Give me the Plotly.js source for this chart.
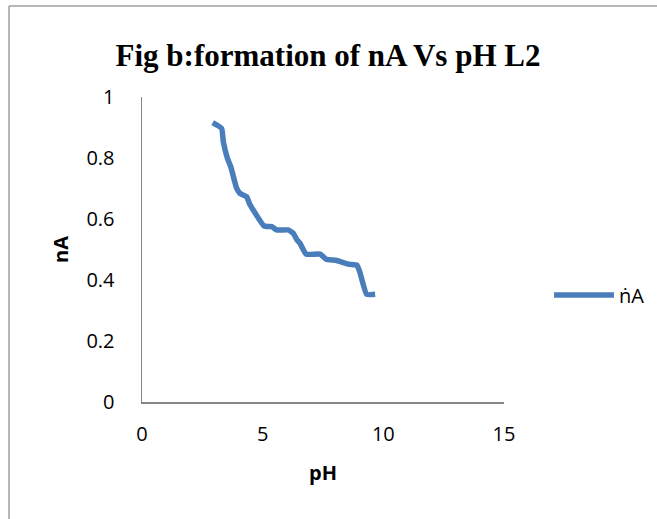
<!DOCTYPE html>
<html>
<head>
<meta charset="utf-8">
<script src="https://cdn.plot.ly/plotly-3.0.1.min.js"></script>
<style>
html,body{margin:0;padding:0;background:#fff;}
#chart{width:657px;height:519px;}
</style>
</head>
<body>
<div id="chart"></div>
<script>
const pH = [2.93, 3.30, 3.37, 3.54, 3.68, 3.92, 4.06, 4.34, 4.45, 5.06, 5.38, 5.58, 6.06, 6.27, 6.41, 6.55, 6.80, 7.38, 7.63, 8.07, 8.55, 8.90, 9.03, 9.31, 9.66];
const nA = [0.916, 0.897, 0.853, 0.799, 0.771, 0.701, 0.684, 0.673, 0.651, 0.577, 0.575, 0.564, 0.564, 0.553, 0.533, 0.520, 0.485, 0.485, 0.468, 0.464, 0.452, 0.449, 0.425, 0.353, 0.353];
const seriesName = "ṅA";
const titleText = "Fig b:formation of nA Vs pH L2";
const xTitle = "pH";
const yTitle = "nA";
const xTicks = [0, 5, 10, 15];
const yTicks = [0, 0.2, 0.4, 0.6, 0.8, 1];

const sans = "Open Sans, Liberation Sans, sans-serif";
const tickFont = {family: sans, size: 20, color: "#000"};
const L = 142, R = 504, T = 97, B = 402;
const pw = R - L, ph = B - T;

Plotly.newPlot("chart", [{
  x: pH, y: nA, name: seriesName, type: "scatter", mode: "lines",
  line: {color: "#4a7ebb", width: 5.5, shape: "spline", smoothing: 0.4}
}], {
  width: 657, height: 519,
  margin: {l: L, r: 657 - R, t: T, b: 519 - B, autoexpand: false},
  paper_bgcolor: "#fff", plot_bgcolor: "#fff",
  title: {text: "<b>" + titleText + "</b>", font: {family: "Liberation Serif, Times New Roman, serif", size: 31, color: "#000"}, x: (328 - L) / pw, xanchor: "center", xref: "paper", y: 1 - 55/519, yanchor: "middle"},
  xaxis: {
    range: [0, 15], tickvals: xTicks, showgrid: false, zeroline: false, automargin: false,
    showline: true, linecolor: "#868686", linewidth: 1.5,
    ticks: "outside", ticklen: 13, tickcolor: "rgba(0,0,0,0)",
    tickfont: tickFont,
    title: {text: "<b>" + xTitle + "</b>", font: {family: sans, size: 20, color: "#000"}, standoff: 20}
  },
  yaxis: {
    range: [0, 1], tickvals: yTicks, showgrid: false, zeroline: false, automargin: false,
    showline: true, linecolor: "#868686", linewidth: 1.5,
    ticks: "outside", ticklen: 22, tickcolor: "rgba(0,0,0,0)",
    tickfont: tickFont,
    title: {text: "<b>" + yTitle + "</b>", font: {family: sans, size: 20, color: "#000"}, standoff: 12}
  },
  showlegend: true,
  legend: {x: (549 - L) / pw, y: (B - 295) / ph, xanchor: "left", yanchor: "middle", font: {family: sans, size: 20, color: "#000"}, bgcolor: "rgba(0,0,0,0)", itemwidth: 60},
  shapes: [
    {type: "line", xref: "paper", yref: "paper", x0: (9-L)/pw, x1: (9-L)/pw, y0: (B-6)/ph, y1: (B-519)/ph, line: {color: "#a0a0a0", width: 1.5}},
    {type: "line", xref: "paper", yref: "paper", x0: (9-L)/pw, x1: (657-L)/pw, y0: (B-6)/ph, y1: (B-6)/ph, line: {color: "#a0a0a0", width: 1.5}}
  ]
}, {displayModeBar: false, staticPlot: true});
</script>
</body>
</html>
